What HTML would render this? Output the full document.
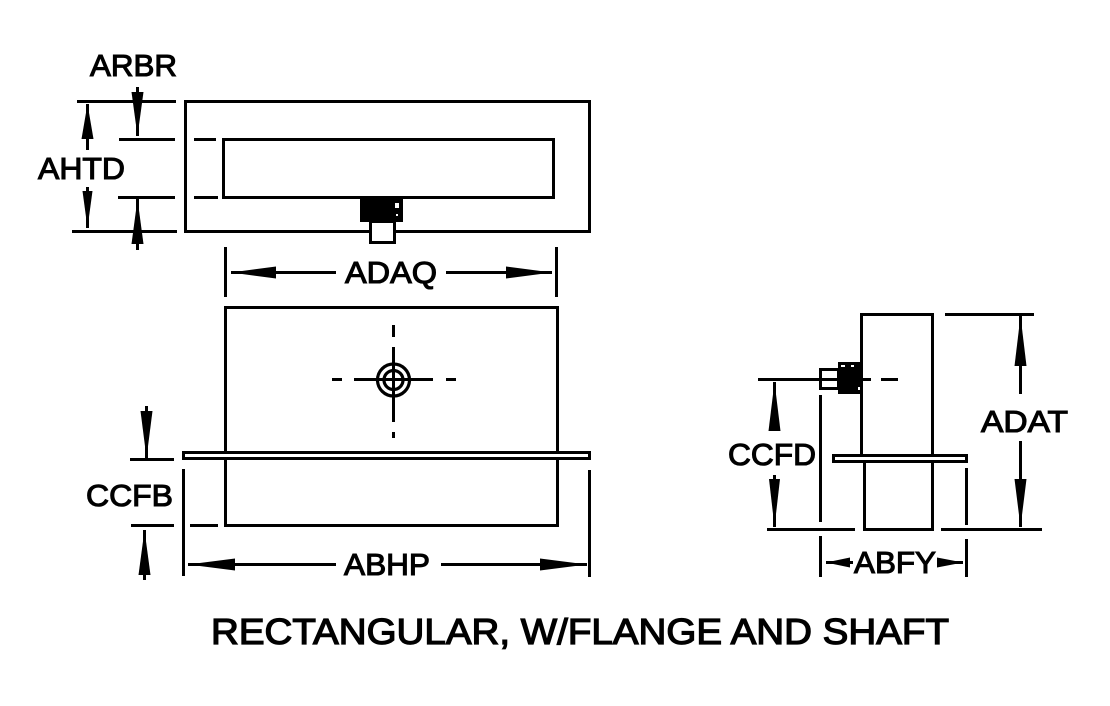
<!DOCTYPE html>
<html>
<head>
<meta charset="utf-8">
<style>
html,body{margin:0;padding:0;background:#fff;}
svg{display:block;}
text{font-family:"Liberation Sans",Arial,sans-serif;fill:#000;stroke:#000;stroke-width:1.1;}
.l{font-size:31px;}
.t{font-size:36.500px;stroke-width:1.3;}
</style>
</head>
<body>
<svg width="1110" height="706" viewBox="0 0 1110 706" xmlns="http://www.w3.org/2000/svg">
<rect width="1110" height="706" fill="#fff"/>
<g fill="none" stroke="#000" stroke-width="3" shape-rendering="crispEdges">
  <!-- top view -->
  <rect x="185.500" y="101.500" width="404" height="130"/>
  <rect x="223.500" y="139.500" width="330" height="58"/>
  <rect x="370.500" y="221.500" width="24" height="21" fill="#fff"/>
  <path d="M77 101.500H176M119 139.500H175M194 139.500H216M118 197.500H175M194 197.500H218M72 231.500H177"/>
  <!-- front view -->
  <path d="M225.500 452V307.500H557.500V452M225.500 459V525.500H557.500V459"/>
  <rect x="183.500" y="452.500" width="406" height="6"/>
  <path d="M130 459.500H174M131 525.500H174M190 525.500H218"/>
  <path d="M183.500 469V576M589.500 470V577M225.500 247V297M556.500 247V297"/>
  <path d="M393.500 325V337M393.500 347V422M393.500 432V438M332 379.500H342M354 379.500H433M446 379.500H456"/>
  <!-- side view -->
  <path d="M861.500 455V314.500H932.500V455M864.500 462V529.500H932.500V462"/>
  <rect x="833.500" y="455.500" width="133" height="6"/>
  <rect x="820.500" y="369.500" width="18" height="19"/>
  <path d="M758 379.500H838M861 379.500H871M881 379.500H898"/>
  <path d="M767 529.500H855M941 529.500H1042M945 314.500H1034"/>
  <path d="M820.500 395V522M820.500 536V577M966.500 468V525M966.500 539V577"/>
  <!-- dimension lines -->
  <path d="M188 564.500H336M441 564.500H587M231 272.500H336M446 272.500H552M826 562.500H853M937 562.500H963"/>
  <path d="M1020.500 316V394M1020.500 441V527M774.500 382V406M774.500 475V527M146.500 406V458M144.500 530V580M137.500 87V136M137.500 199V250M87.500 104V150M87.500 187V228"/>
</g>
<g fill="#000" stroke="none">
  <!-- blocks -->
  <rect x="360" y="196" width="43" height="26"/>
  <rect x="838" y="362" width="23" height="32"/>
  <!-- front circles -->
  <g fill="none" stroke="#000" stroke-width="3.200">
    <circle cx="393.500" cy="380" r="16"/>
    <circle cx="393.500" cy="380" r="9.500"/>
  </g>
  <!-- arrowheads -->
  <path d="M188 564.500L235 558.500V570.500Z"/>
  <path d="M587 564.500L540 558.500V570.500Z"/>
  <path d="M231 272.500L276 266.500V278.500Z"/>
  <path d="M552 272.500L506 266.500V278.500Z"/>
  <path d="M826 562.500L850 557.500V567.500Z"/>
  <path d="M963 562.500L937 557.500V567.500Z"/>
  <path d="M1020.500 316L1014.500 366H1026.500Z"/>
  <path d="M1020.500 527L1014.500 479H1026.500Z"/>
  <path d="M774.500 382L768.500 431H780.500Z"/>
  <path d="M774.500 527L769 479H780Z"/>
  <path d="M146.500 458L140.500 411H152.500Z"/>
  <path d="M144.500 530L138.500 575H150.500Z"/>
  <path d="M137.500 136L131.500 92H143.500Z"/>
  <path d="M137.500 199L131.500 244H143.500Z"/>
  <path d="M87.500 104L81.500 139H93.500Z"/>
  <path d="M87.500 228L82.500 191H92.500Z"/>
</g>
<!-- specks on blocks -->
<g fill="#fff" shape-rendering="crispEdges">
  <rect x="395" y="203" width="4" height="5"/>
  <rect x="396" y="214" width="2" height="2"/>
  <rect x="841" y="365" width="4" height="2"/>
  <rect x="851" y="365" width="3" height="2"/>
  <rect x="858" y="387" width="2" height="3"/>
</g>
<text class="l" x="90" y="76" textLength="87" lengthAdjust="spacingAndGlyphs">ARBR</text>
<text class="l" x="38" y="179" textLength="87" lengthAdjust="spacingAndGlyphs">AHTD</text>
<text class="l" x="345" y="283" textLength="92" lengthAdjust="spacingAndGlyphs">ADAQ</text>
<text class="l" x="86" y="506" textLength="87" lengthAdjust="spacingAndGlyphs">CCFB</text>
<text class="l" x="344" y="575" textLength="86" lengthAdjust="spacingAndGlyphs">ABHP</text>
<text class="l" x="728" y="465" textLength="88" lengthAdjust="spacingAndGlyphs">CCFD</text>
<text class="l" x="981" y="432" textLength="87" lengthAdjust="spacingAndGlyphs">ADAT</text>
<text class="l" x="854" y="573" textLength="82" lengthAdjust="spacingAndGlyphs">ABFY</text>
<text class="t" x="211" y="644" textLength="738" lengthAdjust="spacingAndGlyphs">RECTANGULAR, W/FLANGE AND SHAFT</text>
</svg>
</body>
</html>
